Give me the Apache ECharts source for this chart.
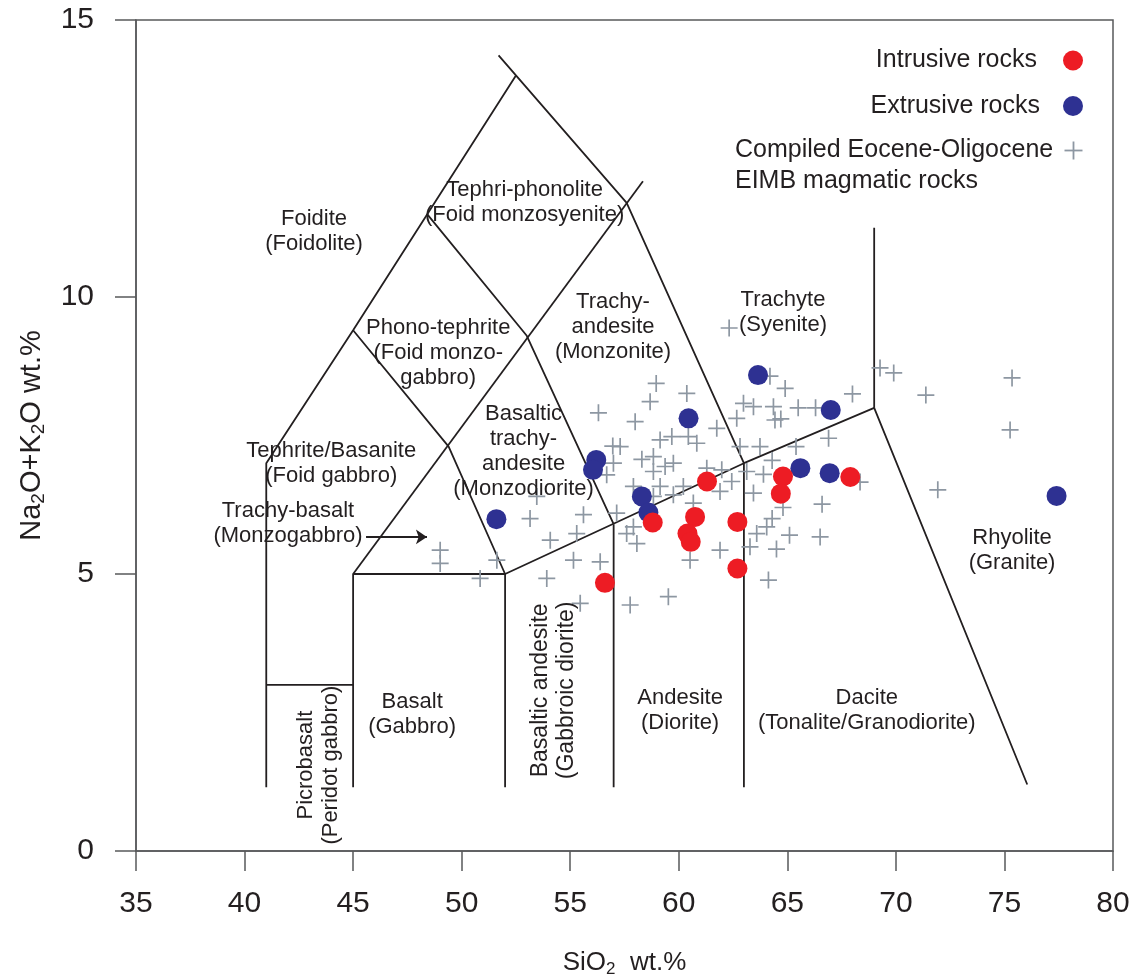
<!DOCTYPE html>
<html>
<head>
<meta charset="utf-8">
<script src="https://cdn.jsdelivr.net/npm/echarts@6/dist/echarts.min.js"></script>
<style>
  html, body { margin: 0; padding: 0; background: #ffffff; }
  #chart { width: 1132px; height: 979px; }
</style>
</head>
<body>
<div id="chart"></div>
<script>
// Axis ranges and ticks (SiO2 vs total alkalis)
const xMin = 35, xMax = 80, xStep = 5;
const yMin = 0, yMax = 15, yStep = 5;

// Samples: [SiO2, Na2O+K2O] in wt.%
const intrusive = [
  [56.6, 4.84], [58.8, 5.93], [61.3, 6.67], [60.75, 6.03], [60.4, 5.73],
  [60.55, 5.58], [62.7, 5.94], [62.7, 5.10], [64.8, 6.76], [64.7, 6.45],
  [67.9, 6.75]
];
const extrusive = [
  [51.6, 5.99], [56.2, 7.06], [56.05, 6.88], [58.3, 6.40], [58.6, 6.11],
  [60.45, 7.81], [63.65, 8.59], [65.6, 6.91], [67.0, 7.96], [66.95, 6.82],
  [77.4, 6.41]
];
const compiled = [
  [58.96, 8.44], [60.37, 8.26], [58.68, 8.11], [56.30, 7.91], [57.99, 7.75],
  [61.75, 7.63], [62.67, 7.81], [63.44, 8.02], [62.98, 8.08], [64.36, 8.02],
  [64.43, 7.78], [59.14, 7.42], [59.68, 7.48], [60.44, 7.48], [60.83, 7.36],
  [56.96, 7.31], [57.30, 7.30], [62.82, 7.30], [63.74, 7.30], [58.30, 7.07],
  [58.83, 7.12], [59.37, 6.94], [59.75, 7.00], [56.99, 7.00], [56.68, 6.79],
  [58.83, 6.85], [61.29, 6.91], [61.98, 6.88], [63.13, 6.85], [62.44, 6.67],
  [63.44, 6.46], [57.91, 6.58], [59.14, 6.58], [59.75, 6.43], [60.21, 6.58],
  [60.67, 6.28], [58.83, 6.40], [61.90, 6.49], [57.14, 6.10], [55.61, 6.07],
  [53.46, 6.40], [53.15, 6.00], [54.08, 5.61], [55.30, 5.73], [55.15, 5.25],
  [56.38, 5.22], [51.62, 5.25], [49.01, 5.43], [49.01, 5.19], [50.85, 4.92],
  [53.92, 4.92], [57.91, 5.85], [57.60, 5.73], [58.07, 5.55], [61.90, 5.43],
  [63.28, 5.49], [63.59, 5.73], [64.05, 5.85], [60.52, 5.25], [64.13, 4.89],
  [55.46, 4.47], [57.76, 4.44], [59.52, 4.59],
  [62.32, 9.44], [69.27, 8.72], [69.9, 8.63], [71.38, 8.23], [71.93, 6.52],
  [75.35, 8.54], [75.26, 7.60], [68.35, 6.66], [66.6, 6.26], [66.51, 5.67],
  [64.2, 8.57], [64.9, 8.35], [65.5, 8.0], [66.3, 8.0], [64.7, 7.8],
  [65.4, 7.3], [66.9, 7.45], [68.0, 8.25], [64.3, 7.05], [63.9, 6.8],
  [64.8, 6.2], [64.3, 6.0], [65.1, 5.7], [64.5, 5.45]
];

// Field boundaries of the TAS classification, as polylines [SiO2, alkalis]
const boundaries = [
  [[41, 1.15], [41, 7], [45, 9.4], [52.5, 14]],
  [[41, 3], [45, 3]],
  [[45, 1.15], [45, 5], [52, 5], [63, 7], [69, 8], [76.05, 1.2]],
  [[45, 5], [58.35, 12.09]],
  [[51.7, 14.36], [57.6, 11.7], [63, 7]],
  [[45, 9.4], [49.4, 7.3], [52, 5]],
  [[48.4, 11.5], [53, 9.3], [57, 5.9]],
  [[52, 1.15], [52, 5]],
  [[57, 1.15], [57, 5.9]],
  [[63, 1.15], [63, 7]],
  [[69, 8], [69, 11.25]]
];

// Field names placed at [SiO2, alkalis]
const fieldNames = [
  { value: [43.2, 11.18], name: 'Foidite\n(Foidolite)' },
  { value: [52.9, 11.71], name: 'Tephri-phonolite\n(Foid monzosyenite)' },
  { value: [48.92, 8.99], name: 'Phono-tephrite\n(Foid monzo-\ngabbro)' },
  { value: [56.97, 9.46], name: 'Trachy-\nandesite\n(Monzonite)' },
  { value: [64.8, 9.73], name: 'Trachyte\n(Syenite)' },
  { value: [52.85, 7.21], name: 'Basaltic\ntrachy-\nandesite\n(Monzodiorite)' },
  { value: [43.99, 7.0], name: 'Tephrite/Basanite\n(Foid gabbro)' },
  { value: [42.0, 5.92], name: 'Trachy-basalt\n(Monzogabbro)' },
  { value: [47.72, 2.46], name: 'Basalt\n(Gabbro)' },
  { value: [60.06, 2.53], name: 'Andesite\n(Diorite)' },
  { value: [68.66, 2.53], name: 'Dacite\n(Tonalite/Granodiorite)' },
  { value: [75.35, 5.43], name: 'Rhyolite\n(Granite)' }
];
const verticalFieldNames = [
  { value: [43.38, 1.55], name: 'Picrobasalt\n(Peridot gabbro)' },
  { value: [54.26, 2.9], name: 'Basaltic andesite\n(Gabbroic diorite)', label: { fontSize: 23, lineHeight: 26 } }
];
const pointerArrow = [[45.6, 5.67], [48.4, 5.67]];

const FONT = '"Liberation Sans", Arial, Helvetica, sans-serif';
const INK = '#231f20';
const FRAME = '#58595b';
const CROSS = '#8d97a2';
const PLUS = 'path://M-0.1,-1L0.1,-1L0.1,-0.1L1,-0.1L1,0.1L0.1,0.1L0.1,1L-0.1,1L-0.1,0.1L-1,0.1L-1,-0.1L-0.1,-0.1Z';

const chart = echarts.init(document.getElementById('chart'), null, { renderer: 'canvas' });

const boundarySeries = boundaries.map(function (poly) {
  return {
    type: 'line', data: poly, symbol: 'none', silent: true, z: 2,
    lineStyle: { color: INK, width: 1.8 }, animation: false
  };
});

const subRich = function (size) {
  return { s: { fontSize: size, fontFamily: FONT, color: INK, verticalAlign: 'bottom', lineHeight: 12 } };
};

const nameLabel = function (rotate) {
  return {
    show: true, position: 'inside', formatter: '{b}', align: 'center', rotate: rotate,
    fontSize: 22, lineHeight: 25, color: INK, fontFamily: FONT, opacity: 1
  };
};

chart.setOption({
  animation: false,
  grid: {
    left: 136, right: 19, top: 20, bottom: 128,
    show: true, borderColor: FRAME, borderWidth: 1.5,
    outerBoundsMode: 'none', containLabel: false
  },
  xAxis: {
    type: 'value', min: xMin, max: xMax, interval: xStep,
    axisLine: { show: true, onZero: false, lineStyle: { color: FRAME, width: 1.5 } },
    axisTick: { show: true, inside: false, length: 20, lineStyle: { color: FRAME, width: 1.5 } },
    splitLine: { show: false },
    axisLabel: { fontSize: 30, color: INK, fontFamily: FONT, margin: 38 },
    name: 'SiO{s|2}  wt.%', nameLocation: 'middle', nameGap: 97,
    nameTextStyle: { fontSize: 26, color: INK, fontFamily: FONT, lineHeight: 30, rich: subRich(17) }
  },
  yAxis: {
    type: 'value', min: yMin, max: yMax, interval: yStep,
    axisLine: { show: true, onZero: false, lineStyle: { color: FRAME, width: 1.5 } },
    axisTick: { show: true, inside: false, length: 21, lineStyle: { color: FRAME, width: 1.5 } },
    splitLine: { show: false },
    axisLabel: { fontSize: 30, color: INK, fontFamily: FONT, margin: 42 },
    name: 'Na{s|2}O+K{s|2}O wt.%', nameLocation: 'middle', nameGap: 88, nameRotate: 90,
    nameTextStyle: { fontSize: 29, color: INK, fontFamily: FONT, lineHeight: 32, rich: subRich(19) }
  },
  series: boundarySeries.concat([
    {
      // pointer from the Trachy-basalt name into its field
      type: 'line', data: pointerArrow, symbol: 'none', silent: true, z: 3,
      lineStyle: { color: INK, width: 1.8 },
      markLine: {
        silent: true, symbol: ['none', 'arrow'], symbolSize: 11, label: { show: false },
        lineStyle: { color: INK, width: 1.8, type: 'solid' },
        data: [[{ coord: pointerArrow[0] }, { coord: pointerArrow[1] }]]
      }
    },
    {
      name: 'Compiled', type: 'scatter', data: compiled, symbol: PLUS, symbolSize: 17,
      itemStyle: { color: CROSS, opacity: 1 }, z: 4, silent: true
    },
    {
      name: 'Extrusive rocks', type: 'scatter', data: extrusive, symbol: 'circle', symbolSize: 20,
      itemStyle: { color: '#2e3192', opacity: 1 }, z: 5, silent: true
    },
    {
      name: 'Intrusive rocks', type: 'scatter', data: intrusive, symbol: 'circle', symbolSize: 20,
      itemStyle: { color: '#ed1c24', opacity: 1 }, z: 5, silent: true
    },
    {
      type: 'scatter', data: fieldNames, symbolSize: 1, silent: true, z: 6,
      itemStyle: { color: 'rgba(0,0,0,0)', opacity: 1 },
      label: nameLabel(0)
    },
    {
      type: 'scatter', data: verticalFieldNames, symbolSize: 1, silent: true, z: 6,
      itemStyle: { color: 'rgba(0,0,0,0)', opacity: 1 },
      label: nameLabel(90)
    }
  ]),
  graphic: [
    { type: 'text', x: 1037, y: 60, style: { text: 'Intrusive rocks', font: '25px ' + FONT, fill: INK, align: 'right', verticalAlign: 'middle' } },
    { type: 'circle', shape: { cx: 1073, cy: 60.5, r: 10 }, style: { fill: '#ed1c24' } },
    { type: 'text', x: 1040, y: 106, style: { text: 'Extrusive rocks', font: '25px ' + FONT, fill: INK, align: 'right', verticalAlign: 'middle' } },
    { type: 'circle', shape: { cx: 1073, cy: 106, r: 10 }, style: { fill: '#2e3192' } },
    { type: 'text', x: 735, y: 150, style: { text: 'Compiled Eocene-Oligocene', font: '25px ' + FONT, fill: INK, align: 'left', verticalAlign: 'middle' } },
    { type: 'text', x: 735, y: 181, style: { text: 'EIMB magmatic rocks', font: '25px ' + FONT, fill: INK, align: 'left', verticalAlign: 'middle' } },
    { type: 'line', shape: { x1: 1064.5, y1: 150.5, x2: 1082.5, y2: 150.5 }, style: { stroke: CROSS, lineWidth: 1.8 } },
    { type: 'line', shape: { x1: 1073.5, y1: 141.5, x2: 1073.5, y2: 159.5 }, style: { stroke: CROSS, lineWidth: 1.8 } }
  ]
});
</script>
</body>
</html>
